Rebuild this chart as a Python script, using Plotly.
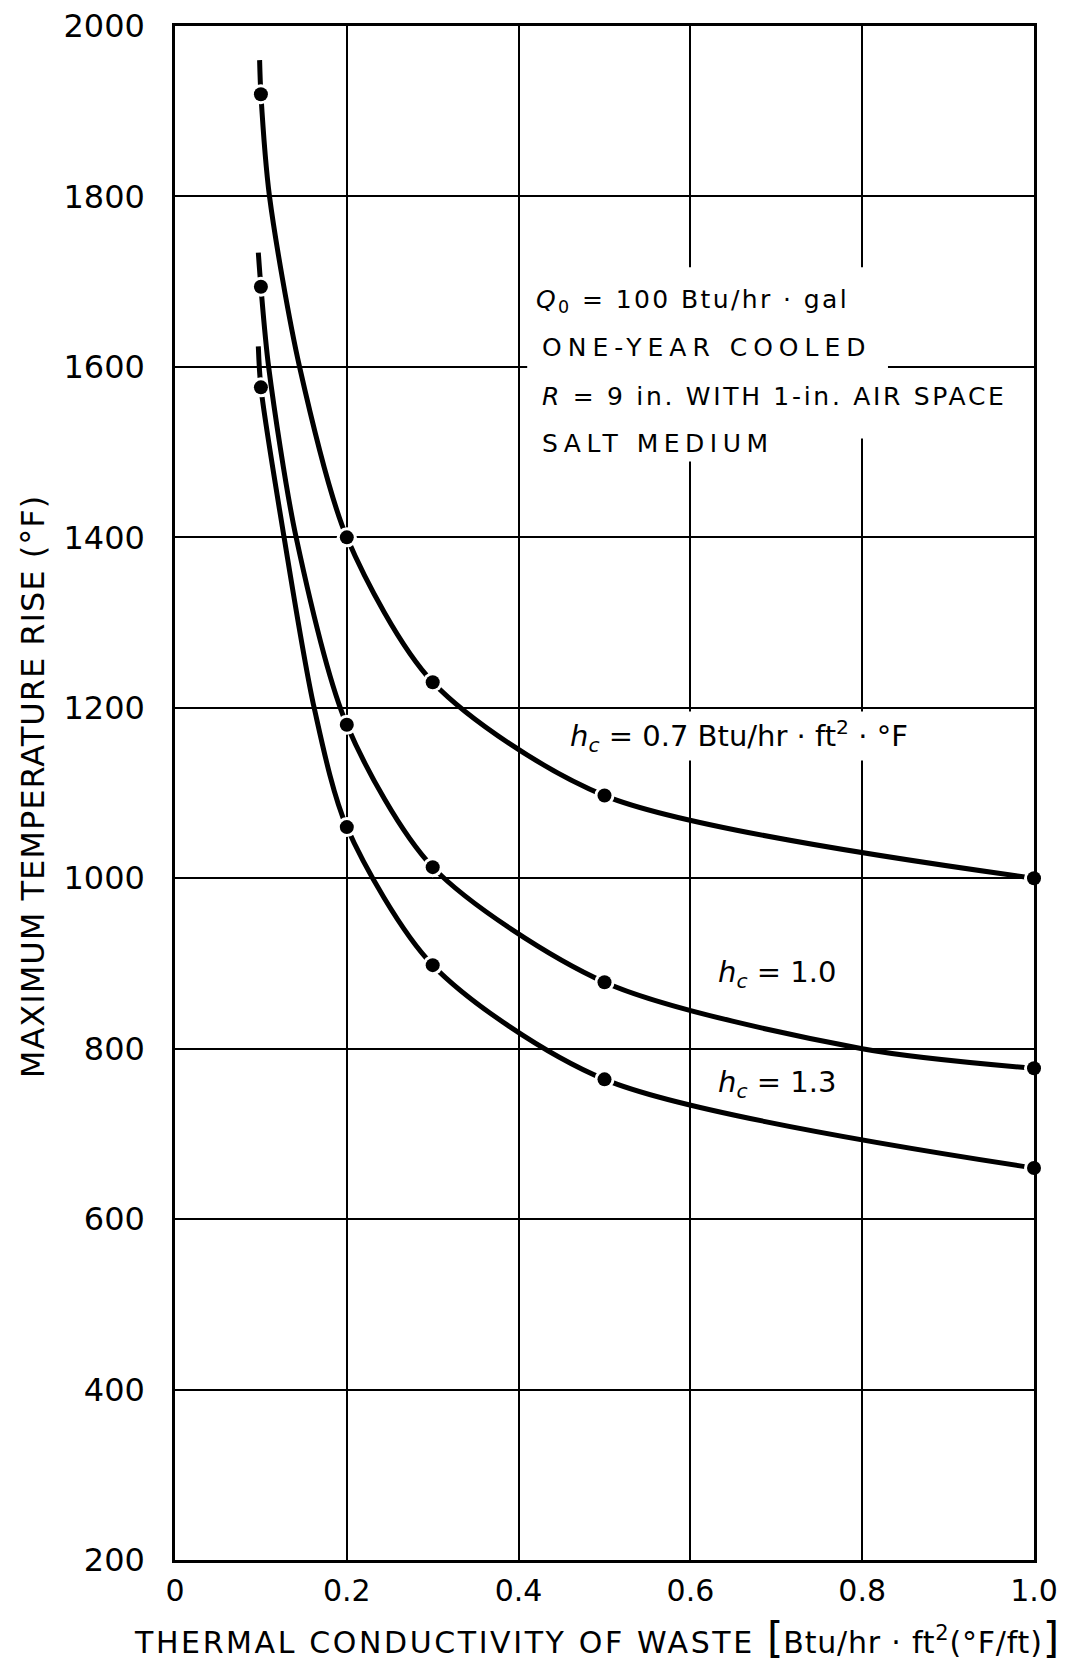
import plotly.graph_objects as go

# ---- data ----
k_points = [0.1, 0.2, 0.3, 0.5, 1.0]
t_h07 = [1920, 1400, 1230, 1097, 1000]
t_h10 = [1694, 1180, 1013, 878, 777]
t_h13 = [1576, 1060, 898, 764, 660]

# curve traces (include top stubs and gridline crossings)
k_curve_h07 = [0.0985, 0.1, 0.11, 0.145, 0.2, 0.3, 0.5, 1.0]
t_curve_h07 = [1960, 1920, 1800, 1600, 1400, 1230, 1097, 1000]
k_curve_h10 = [0.097, 0.1, 0.109, 0.141, 0.2, 0.3, 0.5, 0.8, 1.0]
t_curve_h10 = [1734, 1694, 1600, 1400, 1180, 1013, 878, 800, 777]
k_curve_h13 = [0.097, 0.1, 0.127, 0.162, 0.2, 0.3, 0.5, 1.0]
t_curve_h13 = [1624, 1576, 1400, 1200, 1060, 898, 764, 660]

x_ticks = [0, 0.2, 0.4, 0.6, 0.8, 1.0]
x_tick_text = ["0", "0.2", "0.4", "0.6", "0.8", "1.0"]
y_ticks = [200, 400, 600, 800, 1000, 1200, 1400, 1600, 1800, 2000]

FONT = "DejaVu Sans"

fig = go.Figure()
curves = [(k_curve_h13, t_curve_h13, t_h13),
          (k_curve_h10, t_curve_h10, t_h10),
          (k_curve_h07, t_curve_h07, t_h07)]
for kc, tc, tp in curves:
    fig.add_trace(go.Scatter(x=kc, y=tc, mode="lines",
                             line=dict(color="black", width=5, shape="spline", smoothing=0.8),
                             hoverinfo="skip", showlegend=False))
    fig.add_trace(go.Scatter(x=k_points, y=tp, mode="markers",
                             marker=dict(color="white", size=20, line=dict(width=0)),
                             hoverinfo="skip", showlegend=False, cliponaxis=False))
    fig.add_trace(go.Scatter(x=k_points, y=tp, mode="markers",
                             marker=dict(color="black", size=14, line=dict(width=0)),
                             showlegend=False, cliponaxis=False))

# white mask behind the note block (gridlines are interrupted there)
fig.add_shape(type="rect", xref="x", yref="y", x0=0.41, x1=0.83, y0=1516, y1=1717,
              fillcolor="white", line=dict(width=0), layer="between")

def sp(txt, ls):
    return f"<span style='letter-spacing:{ls}px'>{txt}</span>"

box_font = dict(family=FONT, size=25, color="black")
hc_font = dict(family=FONT, size=29, color="black")
notes = [
    (0.416, 1677, sp("<i>Q</i><sub>0</sub> = 100 Btu/hr · gal", 2.4), box_font),
    (0.423, 1623, sp("ONE-YEAR COOLED", 6), box_font),
    (0.423, 1565, sp("<i>R</i> = 9 in. WITH 1-in. AIR SPACE", 2.7), box_font),
    (0.423, 1510, sp("SALT MEDIUM", 5.5), box_font),
    (0.455, 1167, "<i>h</i><sub><i>c</i></sub> = 0.7 Btu/hr · ft<sup>2</sup> · °F", hc_font),
    (0.627, 888, "<i>h</i><sub><i>c</i></sub> = 1.0", hc_font),
    (0.627, 759, "<i>h</i><sub><i>c</i></sub> = 1.3", hc_font),
]
for xv, yv, txt, fnt in notes:
    fig.add_annotation(x=xv, y=yv, xref="x", yref="y", text=txt, showarrow=False,
                       xanchor="left", yanchor="middle", font=fnt,
                       bgcolor="white", borderpad=3)

fig.add_annotation(xref="paper", yref="paper", x=-0.165, y=0.504, xanchor="center",
                   yanchor="middle",
                   text=sp("MAXIMUM TEMPERATURE RISE (°F)", 1), textangle=-90,
                   showarrow=False, font=dict(family=FONT, size=32, color="black"))
fig.add_annotation(xref="paper", yref="paper", x=0.491, y=-0.051, yanchor="middle",
                   xanchor="center",
                   text=sp("THERMAL CONDUCTIVITY OF WASTE ", 2.6)
                        + "<span style='font-size:42px'>[</span>"
                        + sp("Btu/hr · ft<sup>2</sup>(°F/ft)", 0.8)
                        + "<span style='font-size:42px'>]</span>",
                   showarrow=False, font=dict(family=FONT, size=30, color="black"))

fig.update_xaxes(range=[0, 1.0], tickvals=x_ticks, ticktext=x_tick_text,
                 showgrid=True, gridcolor="black", gridwidth=1.5,
                 showline=True, linecolor="black", linewidth=2.5, mirror=True,
                 ticks="outside", ticklen=2, tickcolor="rgba(0,0,0,0)",
                 tickfont=dict(family=FONT, size=30, color="black"),
                 zeroline=False, automargin=False, ticklabeloverflow="allow")
fig.update_yaxes(range=[200, 2000], tickvals=y_ticks,
                 showgrid=True, gridcolor="black", gridwidth=1.5,
                 showline=True, linecolor="black", linewidth=2.5, mirror=True,
                 ticks="outside", ticklen=21, tickcolor="rgba(0,0,0,0)",
                 tickfont=dict(family=FONT, size=32, color="black"),
                 zeroline=False, automargin=False, ticklabeloverflow="allow")

fig.update_layout(width=1066, height=1662,
                  margin=dict(l=167, r=40, t=18, b=110),
                  paper_bgcolor="white", plot_bgcolor="white",
                  showlegend=False)

fig.write_html("out.html")
